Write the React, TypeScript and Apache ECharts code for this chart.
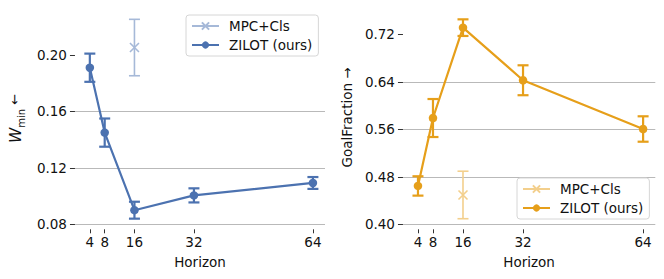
import React, { useEffect, useRef } from "react";
import * as echarts from "echarts";

// ---- data ----
const horizons = [4, 8, 16, 32, 64];
const xTickValues = [4, 8, 16, 32, 64];

const zilotW = [0.191, 0.145, 0.090, 0.1005, 0.1093];
const zilotWErr = [0.010, 0.010, 0.006, 0.005, 0.0042];
const mpcWX = [16];
const mpcW = [0.2053];
const mpcWErr = [0.020];
const wTicks = [0.08, 0.12, 0.16, 0.2];

const zilotG = [0.4646, 0.579, 0.7312, 0.6426, 0.5605];
const zilotGErr = [0.0163, 0.032, 0.014, 0.0252, 0.0214];
const mpcGX = [16];
const mpcG = [0.4494];
const mpcGErr = [0.040];
const gTicks = [0.4, 0.48, 0.56, 0.64, 0.72];

const FONT = "DejaVu Sans";
const TXT = "#111111";
const FS = 13.5;

type PanelCfg = {
  color: string;
  light: string;
  yMin: number;
  yMax: number;
  yInterval: number;
  yTicks: number[];
  gridLeft: number;
  gridTop: number;
  gridWidth: number;
  gridHeight: number;
  xMax: number;
  zilot: number[];
  zilotErr: number[];
  mpcX: number[];
  mpc: number[];
  mpcErr: number[];
  yName: string;
  yNameRich: any;
  yNameGap: number;
  legendLeft: number;
  legendTop: number;
};

function errData(xs: number[], ys: number[], es: number[]) {
  return xs.map((x, i) => [x, ys[i] - es[i], ys[i] + es[i]]);
}

function errSeries(name: string, data: number[][], color: string, width: number) {
  return {
    name,
    type: "custom",
    data,
    z: 3,
    renderItem: (params: any, api: any) => {
      const x = api.value(0);
      const lo = api.coord([x, api.value(1)]);
      const hi = api.coord([x, api.value(2)]);
      const cap = 5.5;
      const style = { stroke: color, lineWidth: width };
      return {
        type: "group",
        children: [
          { type: "line", shape: { x1: lo[0], y1: lo[1], x2: hi[0], y2: hi[1] }, style },
          { type: "line", shape: { x1: lo[0] - cap, y1: lo[1], x2: lo[0] + cap, y2: lo[1] }, style },
          { type: "line", shape: { x1: hi[0] - cap, y1: hi[1], x2: hi[0] + cap, y2: hi[1] }, style },
        ],
      };
    },
  };
}

function buildOption(c: PanelCfg) {
  return {
    animation: false,
    textStyle: { fontFamily: FONT },
    grid: { left: c.gridLeft, top: c.gridTop, width: c.gridWidth, height: c.gridHeight, containLabel: false },
    legend: {
      orient: "vertical",
      left: c.legendLeft,
      top: c.legendTop,
      data: ["MPC+Cls", "ZILOT (ours)"],
      itemWidth: 27,
      itemHeight: 9,
      itemGap: 5,
      padding: [4, 6, 4, 5],
      borderColor: "#d6d6d6",
      borderWidth: 1,
      borderRadius: 3,
      backgroundColor: "rgba(255,255,255,0.85)",
      textStyle: { fontFamily: FONT, fontSize: FS, color: TXT, padding: [0, 0, 0, 5] },
      selectedMode: false,
    },
    xAxis: {
      type: "value",
      min: 0,
      max: c.xMax,
      offset: 5,
      axisLine: { show: false },
      splitLine: { show: false },
      axisTick: { show: true, length: 4, customValues: xTickValues, lineStyle: { color: "#333", width: 1 } },
      axisLabel: { customValues: xTickValues, fontFamily: FONT, fontSize: FS, color: TXT, margin: 6 },
      name: "Horizon",
      nameLocation: "middle",
      nameGap: 26,
      nameTextStyle: { fontFamily: FONT, fontSize: FS, color: TXT },
    },
    yAxis: {
      type: "value",
      min: c.yMin,
      max: c.yMax,
      interval: c.yInterval,
      offset: 0,
      axisLine: { show: false },
      axisTick: { show: true, length: 5, customValues: c.yTicks, lineStyle: { color: "#333", width: 1 } },
      axisLabel: {
        customValues: c.yTicks,
        fontFamily: FONT,
        fontSize: FS,
        color: TXT,
        margin: 8,
        formatter: (v: number) => v.toFixed(2),
      },
      splitLine: { show: true, showMaxLine: false, lineStyle: { color: "#b9b9b9", width: 1 } },
      name: c.yName,
      nameLocation: "middle",
      nameRotate: 90,
      nameGap: c.yNameGap,
      nameTextStyle: { fontFamily: FONT, fontSize: FS, color: TXT, rich: c.yNameRich },
    },
    series: [
      errSeries("mpcErr", errData(c.mpcX, c.mpc, c.mpcErr), c.light, 1.6),
      {
        name: "MPC+Cls",
        type: "line",
        data: c.mpcX.map((x, i) => [x, c.mpc[i]]),
        symbol: "path://M0,0L10,10M10,0L0,10",
        symbolSize: 9,
        lineStyle: { color: c.light, width: 1.8 },
        itemStyle: { color: "none", borderColor: c.light, borderWidth: 1.6 },
        z: 4,
      },
      errSeries("zilotErr", errData(horizons, c.zilot, c.zilotErr), c.color, 2.2),
      {
        name: "ZILOT (ours)",
        type: "line",
        data: horizons.map((x, i) => [x, c.zilot[i]]),
        symbol: "circle",
        symbolSize: 8.5,
        lineStyle: { color: c.color, width: 2.2 },
        itemStyle: { color: c.color, borderWidth: 0 },
        z: 5,
      },
    ],
  };
}

const leftCfg: PanelCfg = {
  color: "#4C72B0",
  light: "#a6b9d8",
  yMin: 0.08,
  yMax: 0.23,
  yInterval: 0.04,
  yTicks: wTicks,
  gridLeft: 63.8,
  gridTop: 12.7,
  gridWidth: 261.2,
  gridHeight: 211.6,
  xMax: 67.25,
  zilot: zilotW,
  zilotErr: zilotWErr,
  mpcX: mpcWX,
  mpc: mpcW,
  mpcErr: mpcWErr,
  yName: "{w|W}{s|min}{a| ←}",
  yNameRich: {
    w: { fontFamily: FONT, fontSize: 15.5, fontStyle: "italic", color: TXT, lineHeight: 18, verticalAlign: "top" },
    s: { fontFamily: FONT, fontSize: 10, color: TXT, lineHeight: 10, verticalAlign: "bottom" },
    a: { fontFamily: FONT, fontSize: 13, color: TXT, lineHeight: 18, verticalAlign: "top" },
  },
  yNameGap: 44,
  legendLeft: 186,
  legendTop: 15,
};

const rightCfg: PanelCfg = {
  color: "#E69F1A",
  light: "#f3cf8c",
  yMin: 0.4,
  yMax: 0.76,
  yInterval: 0.08,
  yTicks: gTicks,
  gridLeft: 61.7,
  gridTop: 10.55,
  gridWidth: 261.6,
  gridHeight: 213.75,
  xMax: 67.25,
  zilot: zilotG,
  zilotErr: zilotGErr,
  mpcX: mpcGX,
  mpc: mpcG,
  mpcErr: mpcGErr,
  yName: "GoalFraction →",
  yNameRich: {},
  yNameGap: 47,
  legendLeft: 185,
  legendTop: 178,
};

function Panel({ cfg }: { cfg: PanelCfg }) {
  const ref = useRef<HTMLDivElement>(null);
  useEffect(() => {
    if (!ref.current) return;
    const chart = echarts.init(ref.current, undefined, { renderer: "svg" });
    chart.setOption(buildOption(cfg) as any);
    return () => chart.dispose();
  }, [cfg]);
  return <div ref={ref} style={{ width: 332, height: 279 }} />;
}

export default function App() {
  return (
    <div style={{ position: "fixed", left: 0, top: 0, width: 664, height: 279, display: "flex", background: "#fff" }}>
      <Panel cfg={leftCfg} />
      <Panel cfg={rightCfg} />
    </div>
  );
}
